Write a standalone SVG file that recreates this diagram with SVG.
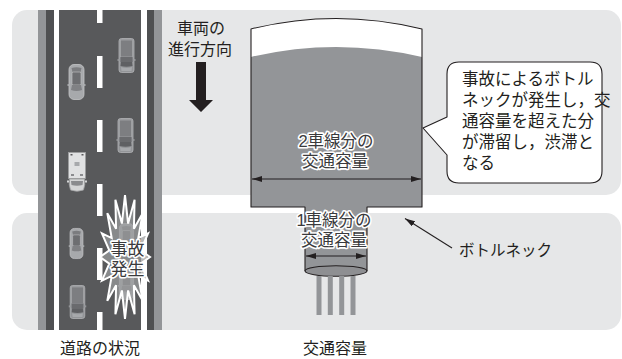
<svg xmlns="http://www.w3.org/2000/svg" width="622" height="359" viewBox="0 0 622 359">
  <style>
    .panel { fill: #e6e7e8; }
    .jp { font-family: "Liberation Sans", "Noto Sans CJK JP", sans-serif; fill: #231f20; }
    .halo { font-family: "Liberation Sans", "Noto Sans CJK JP", sans-serif; fill: #3a3a3c; stroke: #ffffff; stroke-width: 3.2; stroke-linejoin: round; paint-order: stroke; }
    .outline { fill: none; stroke: #231f20; stroke-width: 1.1; stroke-linejoin: round; }
    .dim { stroke: #231f20; stroke-width: 1.1; fill: none; }
    .flow { fill: #939598; }
  </style>
  <defs>
    <marker id="head" viewBox="0 0 10 6" refX="10" refY="3" markerWidth="10" markerHeight="6" markerUnits="userSpaceOnUse" orient="auto-start-reverse">
      <path d="M0,0 L10,3 L0,6 Z" fill="#231f20"/>
    </marker>
    <!-- sedan, front pointing down -->
    <symbol id="sedan" viewBox="0 0 17 36" overflow="visible">
      <rect x="1" y="0.5" width="15" height="35" rx="5" fill="#a7a9ac" stroke="#c4c5c7" stroke-width="0.8"/>
      <rect x="-0.5" y="20" width="2" height="2" fill="#a7a9ac"/>
      <rect x="15.5" y="20" width="2" height="2" fill="#a7a9ac"/>
      <path d="M3.5,4 Q8.5,2.5 13.5,4 L12.5,8 H4.5 Z" fill="#7b7c7f"/>
      <rect x="4" y="8" width="9" height="13" rx="1.5" fill="#6d6e71" stroke="#bcbdbf" stroke-width="0.7"/>
      <path d="M4,21 H13 L14,26 Q8.5,28 3,26 Z" fill="#808184"/>
    </symbol>
    <!-- pickup / van, front pointing down -->
    <symbol id="pickup" viewBox="0 0 17 35" overflow="visible">
      <rect x="1" y="0.5" width="15" height="34" rx="2.5" fill="#939598" stroke="#b3b4b6" stroke-width="0.8"/>
      <rect x="-0.5" y="21" width="2" height="2" fill="#939598"/>
      <rect x="15.5" y="21" width="2" height="2" fill="#939598"/>
      <rect x="2.5" y="2" width="12" height="17" fill="#7d7e81" stroke="#a9aaac" stroke-width="0.7"/>
      <rect x="2.5" y="19" width="12" height="5" fill="#6a6b6e"/>
      <path d="M3,24 H14 L14.5,28 Q8.5,29.5 2.5,28 Z" fill="#5f6063"/>
      <path d="M3,29 Q8.5,31 14,29 L13.5,33 H3.5 Z" fill="#a7a9ac"/>
    </symbol>
    <!-- light box truck, front pointing down -->
    <symbol id="truck" viewBox="0 0 19 40" overflow="visible">
      <rect x="1" y="0.5" width="17" height="26" fill="#e0e1e2" stroke="#9d9ea0" stroke-width="0.8"/>
      <rect x="3" y="2" width="2" height="1.5" fill="#58595b"/>
      <rect x="14" y="2" width="2" height="1.5" fill="#58595b"/>
      <rect x="7" y="10" width="5" height="4" fill="#a7a9ac"/>
      <rect x="3.5" y="22" width="3" height="2" fill="#8a8b8e"/>
      <rect x="12.5" y="22" width="3" height="2" fill="#8a8b8e"/>
      <path d="M2,27 H17 Q18,33 16,38 Q9.5,40.5 3,38 Q1,33 2,27 Z" fill="#d4d5d6" stroke="#9d9ea0" stroke-width="0.8"/>
      <path d="M3.5,29 H15.5 L15,33 Q9.5,34.5 4,33 Z" fill="#8a8b8e"/>
      <rect x="-0.5" y="28.5" width="2" height="2" fill="#d4d5d6"/>
      <rect x="17.5" y="28.5" width="2" height="2" fill="#d4d5d6"/>
    </symbol>
  </defs>

  <!-- background panels -->
  <g id="panels">
    <rect class="panel" x="12" y="10" width="609" height="185" rx="15"/>
    <rect class="panel" x="12" y="213" width="609" height="117" rx="15"/>
  </g>

  <!-- road -->
  <g id="road">
    <rect x="38" y="10" width="124" height="320" fill="#939598"/>
    <rect x="46" y="10" width="108" height="320" fill="#4f5052"/>
    <rect x="54" y="10" width="93" height="320" fill="#ffffff"/>
    <rect x="59" y="10" width="82" height="320" fill="#58595b"/>
    <g fill="#ffffff">
      <rect x="97" y="10" width="5.5" height="13"/>
      <rect x="97" y="56" width="5.5" height="32"/>
      <rect x="97" y="120" width="5.5" height="32"/>
      <rect x="97" y="184" width="5.5" height="32"/>
      <rect x="97" y="248" width="5.5" height="32"/>
      <rect x="97" y="312" width="5.5" height="18"/>
    </g>
    <use href="#pickup" x="118" y="38" width="17" height="35"/>
    <use href="#sedan" x="68" y="64" width="17" height="36"/>
    <use href="#pickup" x="117" y="118" width="17" height="35"/>
    <use href="#truck" x="67.5" y="152" width="19" height="40"/>
    <use href="#sedan" x="68" y="228" width="17" height="31"/>
    <use href="#pickup" x="69" y="285" width="17" height="34"/>
    <use href="#sedan" x="118" y="223" width="17" height="34"/>
    <use href="#sedan" x="118" y="266" width="17" height="34"/>
  </g>

  <!-- accident burst -->
  <g id="accident">
    <polygon points="125,195 128.1,223.6 134.6,199.7 133.9,228.7 142.7,213.2 138.3,238.1 148.1,233.3 140.7,250.4 150,257 140.7,263.6 148.1,280.7 138.3,275.9 142.7,300.8 133.9,285.3 134.6,314.3 128.1,290.4 125,319 121.9,290.4 115.4,314.3 116.1,285.3 107.3,300.8 111.7,275.9 101.9,280.7 109.3,263.6 100,257 109.3,250.4 101.9,233.3 111.7,238.1 107.3,213.2 116.1,228.7 115.4,199.7 121.9,223.6" fill="#9b9c9e" fill-opacity="0.72" stroke="#ffffff" stroke-width="2" stroke-linejoin="miter"/>
    <text class="halo" font-size="17" text-anchor="middle"><tspan x="127.5" y="255">事故</tspan><tspan x="127.5" y="275">発生</tspan></text>
  </g>

  <!-- direction of travel -->
  <g id="direction">
    <text class="jp" font-size="16" text-anchor="middle"><tspan x="201" y="34">車両の</tspan><tspan x="200" y="55">進行方向</tspan></text>
    <path d="M196,62 H206 V100 H213 L201,112 L189,100 H196 Z" fill="#231f20"/>
  </g>

  <!-- capacity vessel -->
  <g id="vessel">
    <path d="M251,29 Q336,8 422,29 V207 H367 V271 H305 V207 H251 Z" fill="#ffffff"/>
    <path d="M251,57 Q336,37 422,57 V207 H367 V271 H305 V207 H251 Z" fill="#939598"/>
    <path class="outline" d="M305,271 V207 H251 V29 Q336,8 422,29 V207 H367 V271"/>
    <ellipse cx="336" cy="271" rx="31" ry="5.2" fill="#8e8f92" stroke="#231f20" stroke-width="1.1"/>
    <text class="halo" font-size="16.5" text-anchor="middle"><tspan x="336" y="147">2車線分の</tspan><tspan x="335" y="167">交通容量</tspan></text>
    <text class="halo" font-size="16.5" text-anchor="middle"><tspan x="334" y="226">1車線分の</tspan><tspan x="334" y="246">交通容量</tspan></text>
  </g>

  <!-- outflow -->
  <g id="outflow">
    <rect class="flow" x="316.5" y="276" width="5" height="39"/>
    <rect class="flow" x="327.8" y="276" width="5" height="39"/>
    <rect class="flow" x="339.2" y="276" width="5" height="39"/>
    <rect class="flow" x="350.5" y="276" width="5" height="39"/>
  </g>

  <!-- explanation callout -->
  <g id="callout">
    <path d="M459,62 H590 Q602,62 602,74 V171 Q602,183 590,183 H459 Q447,183 447,171 V155 L423,128 L447,117 V74 Q447,62 459,62 Z" fill="#ffffff" stroke="#231f20" stroke-width="1.1" stroke-linejoin="round"/>
    <text class="jp" font-size="16.5"><tspan x="462" y="85">事故によるボトル</tspan><tspan x="462" y="106">ネックが発生し，交</tspan><tspan x="462" y="127">通容量を超えた分</tspan><tspan x="462" y="148">が滞留し，渋滞と</tspan><tspan x="462" y="169">なる</tspan></text>
  </g>

  <!-- bottleneck label -->
  <g id="bottleneck-label">
    <text class="jp" x="459" y="256" font-size="15.5">ボトルネック</text>
  </g>

  <!-- bottom captions -->
  <g id="captions">
    <text class="jp" x="100" y="354" font-size="16" text-anchor="middle">道路の状況</text>
    <text class="jp" x="335" y="354" font-size="16" text-anchor="middle">交通容量</text>
  </g>

  <!-- connectors -->
  <g id="connectors">
    <line class="dim" x1="252" y1="179" x2="421" y2="179" marker-start="url(#head)" marker-end="url(#head)"/>
    <line class="dim" x1="306" y1="256" x2="366" y2="256" marker-start="url(#head)" marker-end="url(#head)"/>
    <line class="dim" x1="452" y1="248" x2="405" y2="218.5" stroke-width="1" marker-end="url(#head)"/>
  </g>
</svg>
